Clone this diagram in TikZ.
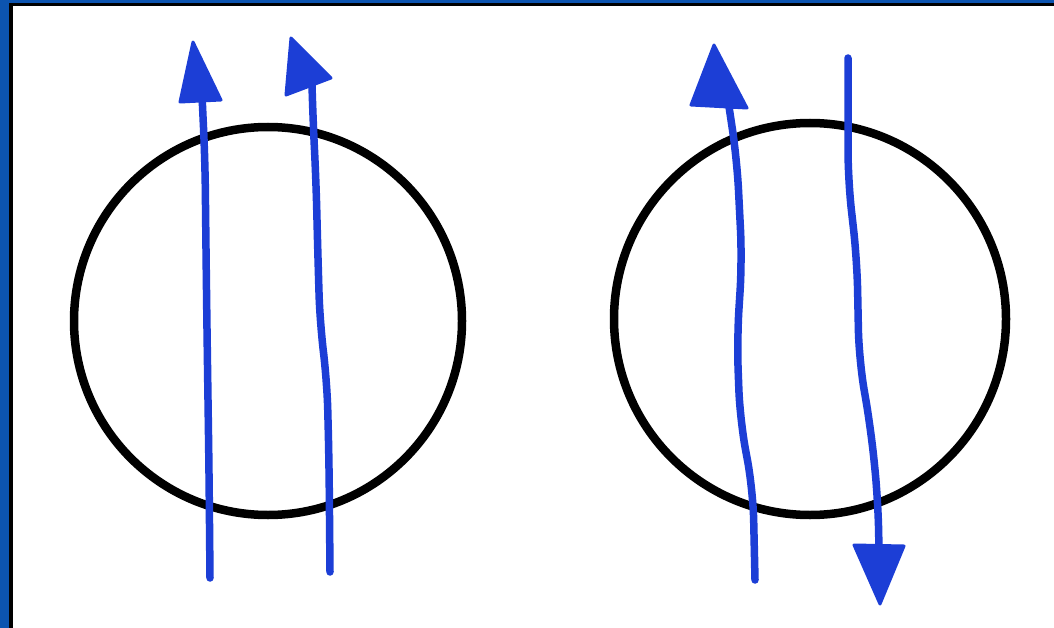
\documentclass[tikz,border=0pt]{standalone}
\usetikzlibrary{calc}
\definecolor{frameblue}{RGB}{12,84,176}
\definecolor{penblue}{RGB}{28,62,214}
\tikzset{
  ring/.style={draw=black, line width=0.17cm},
  stroke/.style={draw=penblue, line width=0.15cm, line cap=round, line join=round, rounded corners=0.6cm},
  headtip/.style={fill=penblue, draw=penblue, line width=0.06cm, line join=round}
}
\begin{document}
\begin{tikzpicture}[x=0.02cm,y=-0.02cm]
  % frame
  \fill[frameblue] (0,0) rectangle (1054,628);
  \fill[black] (9,3) rectangle (1054,628);
  \fill[white] (13,6) rectangle (1054,628);
  \useasboundingbox (0,0) rectangle (1054,628);
  % circles
  \draw[ring] (268,321) circle (194);
  \draw[ring] (810,319) circle (196);
  % left pair: both up
  \draw[stroke] (210,578) -- (209,470) -- (207,330) -- (206,250) -- (205,160) -- (202,95);
  \fill[headtip] (193,42) -- (180,102) -- (221,100) -- cycle;
  \draw[stroke] (330,572) -- (329,460) -- (327,380) -- (320,325) -- (318,260) -- (316,180) -- (313,120) -- (312,85);
  \fill[headtip] (291,38) -- (286,95) -- (331,78) -- cycle;
  % right pair: up and down
  \draw[stroke] (755,580) -- (753,490) -- (740,420) -- (737,340) -- (742,260) -- (737,160) -- (728,100);
  \fill[headtip] (714,45) -- (691,105) -- (747,108) -- cycle;
  \draw[stroke] (848,58) -- (848,180) -- (857,260) -- (859,360) -- (871,430) -- (878,500) -- (879,550);
  \fill[headtip] (880,604) -- (854,545) -- (904,546) -- cycle;
\end{tikzpicture}
\end{document}
